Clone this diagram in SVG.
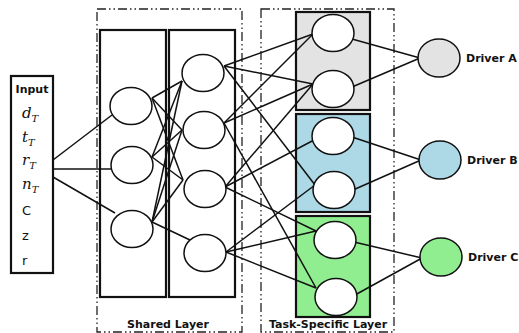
<svg xmlns="http://www.w3.org/2000/svg" width="519" height="333" viewBox="0 0 519 333">
<style>
.frame{fill:none;stroke:#222;stroke-width:1.3;stroke-dasharray:9 3 1.5 3 1.5 3}
.box{stroke:#111;stroke-width:2.2}
.n{fill:#fff;stroke:#111;stroke-width:1.5}
.e{stroke:#111;stroke-width:1.5;fill:none}
.lbl{font-family:"DejaVu Sans",Verdana,sans-serif;font-weight:bold;font-size:11px;fill:#111}
.math{font-family:"DejaVu Serif","Liberation Serif",serif;font-style:italic;font-size:15px;fill:#111}
.sub{font-family:"DejaVu Serif","Liberation Serif",serif;font-style:italic;font-size:10px;fill:#111}
.var{font-family:"DejaVu Sans",Verdana,sans-serif;font-size:13px;fill:#111}
</style>
<rect width="519" height="333" fill="#fff"/>
<g id="shared-layer-frame">
<rect class="frame" x="97" y="9" width="145" height="323"/>
<text class="lbl" x="168" y="328" text-anchor="middle">Shared Layer</text>
</g>
<g id="task-layer-frame">
<rect class="frame" x="261" y="9" width="133" height="323"/>
<text class="lbl" x="328" y="328" text-anchor="middle">Task-Specific Layer</text>
</g>
<g id="shared-box-1"><rect class="box" x="100" y="30" width="66" height="267" fill="#fff"/></g>
<g id="shared-box-2"><rect class="box" x="169" y="30" width="66" height="267" fill="#fff"/></g>
<g id="task-box-a"><rect class="box" x="296" y="12" width="74" height="98" fill="#e3e3e3"/></g>
<g id="task-box-b"><rect class="box" x="296" y="114" width="74" height="98" fill="#add8e6"/></g>
<g id="task-box-c"><rect class="box" x="296" y="216" width="74" height="101" fill="#90ee90"/></g>
<g id="connectors" class="e">
<line x1="53" y1="160" x2="112" y2="115"/>
<line x1="53" y1="169" x2="111" y2="169"/>
<line x1="53" y1="177" x2="115" y2="213"/>
<line x1="152" y1="98" x2="182" y2="81"/>
<line x1="152" y1="98" x2="182" y2="130"/>
<line x1="152" y1="98" x2="183" y2="180"/>
<line x1="152" y1="157" x2="182" y2="81"/>
<line x1="152" y1="157" x2="182" y2="130"/>
<line x1="152" y1="157" x2="183" y2="180"/>
<line x1="152" y1="222" x2="182" y2="81"/>
<line x1="152" y1="222" x2="182" y2="130"/>
<line x1="152" y1="222" x2="183" y2="180"/>
<line x1="152" y1="222" x2="190" y2="240"/>
<line x1="224" y1="66" x2="313" y2="34"/>
<line x1="224" y1="66" x2="313" y2="84"/>
<line x1="224" y1="66" x2="315" y2="185"/>
<line x1="224" y1="123" x2="313" y2="34"/>
<line x1="224" y1="123" x2="313" y2="84"/>
<line x1="224" y1="123" x2="316" y2="288"/>
<line x1="225" y1="187" x2="313" y2="84"/>
<line x1="225" y1="187" x2="314" y2="140"/>
<line x1="225" y1="187" x2="316" y2="231"/>
<line x1="226" y1="252" x2="315" y2="185"/>
<line x1="226" y1="252" x2="316" y2="231"/>
<line x1="226" y1="252" x2="316" y2="288"/>
<line x1="352" y1="39" x2="420" y2="58"/>
<line x1="352" y1="87" x2="420" y2="58"/>
<line x1="352" y1="137" x2="421" y2="160"/>
<line x1="353" y1="190" x2="421" y2="160"/>
<line x1="354" y1="242" x2="422" y2="258"/>
<line x1="355" y1="295" x2="422" y2="258"/>
</g>
<g id="input">
<rect class="box" x="11" y="76" width="42" height="197" fill="#fff"/>
<text class="lbl" x="32" y="93" text-anchor="middle" font-size="11.5">Input</text>
<text class="math" x="22" y="118">d<tspan class="sub" dy="4">T</tspan></text>
<text class="math" x="22" y="142">t<tspan class="sub" dy="4">T</tspan></text>
<text class="math" x="22" y="165">r<tspan class="sub" dy="4">T</tspan></text>
<text class="math" x="22" y="189">n<tspan class="sub" dy="4">T</tspan></text>
<text class="var" x="22" y="215">C</text>
<text class="var" x="22" y="240">z</text>
<text class="var" x="22" y="265">r</text>
</g>
<g id="h1-1"><ellipse class="n" cx="131" cy="106" rx="21" ry="18.5"/></g>
<g id="h1-2"><ellipse class="n" cx="132" cy="165" rx="21" ry="18.5"/></g>
<g id="h1-3"><ellipse class="n" cx="132" cy="229" rx="21" ry="18.5"/></g>
<g id="h2-1"><ellipse class="n" cx="203" cy="73" rx="21" ry="18.5"/></g>
<g id="h2-2"><ellipse class="n" cx="204" cy="130" rx="21" ry="18.5"/></g>
<g id="h2-3"><ellipse class="n" cx="205" cy="189" rx="21" ry="18.5"/></g>
<g id="h2-4"><ellipse class="n" cx="205" cy="253" rx="21" ry="18.5"/></g>
<g id="ta-1"><ellipse class="n" cx="333" cy="33" rx="21" ry="18.5"/></g>
<g id="ta-2"><ellipse class="n" cx="333" cy="89" rx="21" ry="18.5"/></g>
<g id="tb-1"><ellipse class="n" cx="333" cy="136" rx="21" ry="18.5"/></g>
<g id="tb-2"><ellipse class="n" cx="334" cy="190" rx="21" ry="18.5"/></g>
<g id="tc-1"><ellipse class="n" cx="335" cy="240" rx="21" ry="18.5"/></g>
<g id="tc-2"><ellipse class="n" cx="336" cy="297" rx="21" ry="18.5"/></g>
<g id="driver-a"><ellipse class="n" cx="439" cy="58" rx="21" ry="19" style="fill:#e3e3e3"/><text class="lbl" x="466" y="62">Driver A</text></g>
<g id="driver-b"><ellipse class="n" cx="440" cy="160" rx="21" ry="19" style="fill:#add8e6"/><text class="lbl" x="467" y="164">Driver B</text></g>
<g id="driver-c"><ellipse class="n" cx="441" cy="257" rx="21" ry="19" style="fill:#90ee90"/><text class="lbl" x="468" y="261">Driver C</text></g>
</svg>
